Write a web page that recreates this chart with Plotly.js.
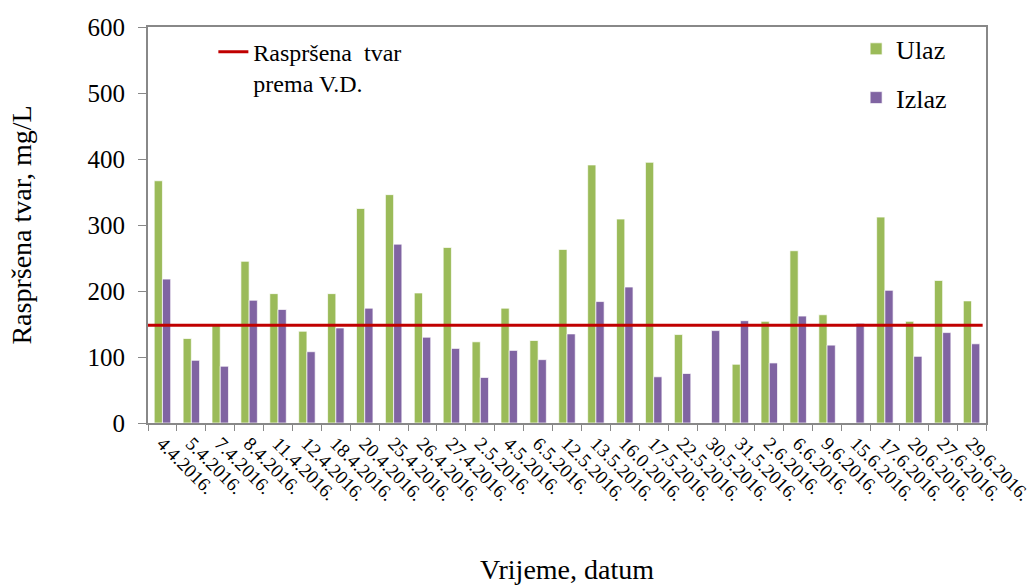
<!DOCTYPE html>
<html>
<head>
<meta charset="utf-8">
<script src="https://cdn.plot.ly/plotly-3.0.1.min.js"></script>
<style>body{margin:0;padding:0;background:#fff;}#chart{width:1034px;height:586px;}</style>
</head>
<body>
<div id="chart"></div>
<script>
const dates = ["4.4.2016.","5.4.2016.","7.4.2016.","8.4.2016.","11.4.2016.","12.4.2016.","18.4.2016.","20.4.2016.","25.4.2016.","26.4.2016.","27.4.2016.","2.5.2016.","4.5.2016.","6.5.2016.","12.5.2016.","13.5.2016.","16.0.2016.","17.5.2016.","22.5.2016.","30.5.2016.","31.5.2016.","2.6.2016.","6.6.2016.","9.6.2016.","15.6.2016.","17.6.2016.","20.6.2016.","27.6.2016.","29.6.2016."];
const ulaz = [367,128,148,245,196,139,196,325,346,197,266,123,174,125,263,391,309,395,134,null,89,154,261,164,null,312,154,216,185];
const izlaz = [218,95,86,186,172,108,144,174,271,130,113,69,110,96,135,184,206,70,75,140,155,91,162,118,151,201,101,137,120];
const limitValue = [148,148];
const limitX = [0,0.996];

const serif = "Liberation Serif";

const traces = [
  {type:'bar', name:'Ulaz', x:dates, y:ulaz, legend:'legend2', legendgroup:'u',
   marker:{color:'#9BBB59', line:{color:'rgba(255,255,255,0.7)', width:1}}},
  {type:'bar', name:'Izlaz', x:dates, y:izlaz, legend:'legend2', legendgroup:'i',
   marker:{color:'#8064A2', line:{color:'rgba(255,255,255,0.7)', width:1}}},
  {type:'scatter', mode:'lines', name:'Raspršena\u00a0\u00a0tvar<br>prema V.D.', x:limitX, y:limitValue,
   xaxis:'x2', legend:'legend3', line:{color:'#C00000', width:3}}
];

const layout = {
  width:1034, height:586,
  margin:{l:148, r:48, t:27, b:163},
  paper_bgcolor:'#fff', plot_bgcolor:'#fff',
  font:{family:serif, color:'#000'},
  showlegend:true,
  barmode:'group', bargap:0.43, bargroupgap:0,
  xaxis:{
    type:'category', tickangle:45, tickson:'boundaries', ticks:'outside', ticklen:6,
    tickcolor:'#888', showline:true, linecolor:'#888', linewidth:2, mirror:true,
    showgrid:false, tickfont:{size:19, family:serif},
    title:{text:'Vrijeme, datum', font:{size:28, family:serif}, standoff:55},
    automargin:false
  },
  xaxis2:{overlaying:'x', range:[0,1], visible:false, fixedrange:true},
  yaxis:{
    range:[0,600], dtick:100, ticks:'outside', ticklen:8, tickcolor:'#888',
    showline:true, linecolor:'#888', linewidth:2, mirror:true, showgrid:false, zeroline:false,
    tickfont:{size:25, family:serif}, ticklabelstandoff:8,
    title:{text:'Raspršena tvar, mg/L', font:{size:28, family:serif}, standoff:48},
    automargin:false
  },
  legend3:{x:0.078, y:0.993, xanchor:'left', yanchor:'top', bgcolor:'rgba(0,0,0,0)',
    font:{size:24, family:serif}, valign:'top'},
  legend2:{x:0.845, y:1.004, xanchor:'left', yanchor:'top', bgcolor:'rgba(0,0,0,0)',
    font:{size:26, family:serif}, traceorder:'grouped', tracegroupgap:12, itemwidth:30}
};

Plotly.newPlot('chart', traces, layout, {displayModeBar:false, staticPlot:true});
</script>
</body>
</html>
